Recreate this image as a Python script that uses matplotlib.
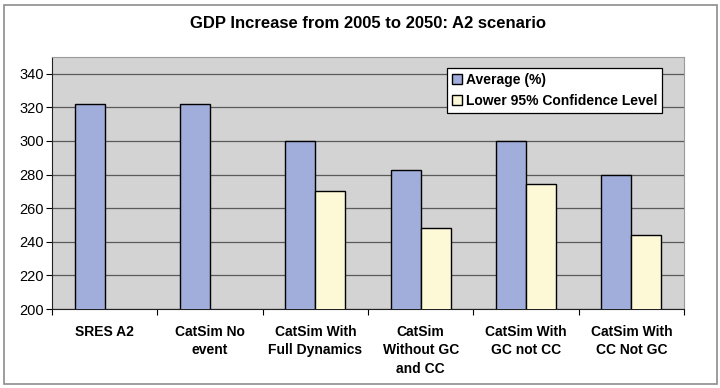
import numpy as np
import matplotlib.pyplot as plt
from matplotlib.patches import Rectangle
from matplotlib.ticker import FixedLocator, NullFormatter

# data
categories = ["SRES A2", "CatSim No\nevent", "CatSim With\nFull Dynamics",
              "CatSim\nWithout GC\nand CC", "CatSim With\nGC not CC", "CatSim With\nCC Not GC"]
average = [322, 322, 300, 283, 300, 280]
lower95 = [np.nan, np.nan, 270.5, 248.5, 274.5, 244]
series_names = ["Average (%)", "Lower 95% Confidence Level"]
yticks = [200, 220, 240, 260, 280, 300, 320, 340]

plt.rcParams["font.family"] = ["Liberation Sans", "DejaVu Sans"]

fig = plt.figure(figsize=(7.2, 3.88), dpi=100)
fig.patch.set_facecolor("white")
W, H = 720, 388

# outer chart border
fig.patches.append(Rectangle((4 / W, 1 - 384 / H), 713 / W, 379 / H, transform=fig.transFigure,
                             fill=False, edgecolor="#8c8c8c", linewidth=1.2))

ax = fig.add_axes([52 / W, 1 - 309 / H, 632 / W, 252 / H])
ax.set_facecolor("#d3d3d3")

x = np.arange(len(categories))
w = 1 / 3.5
ax.bar(x - w / 2, average, width=w, color="#a1aedb", edgecolor="black",
       linewidth=1.0, label=series_names[0], zorder=3)
ax.bar(x + w / 2, lower95, width=w, color="#fdf8d6", edgecolor="black",
       linewidth=1.0, label=series_names[1], zorder=3)

ax.set_xlim(-0.5, len(categories) - 0.5)
ax.set_ylim(200, 350)
ax.set_yticks(yticks)
ax.tick_params(axis="y", labelsize=10.5, length=4, width=0.8, direction="out", pad=2)
ax.yaxis.grid(True, color="#5a5a5a", linewidth=0.9, zorder=1)

# category labels centred, ticks between categories
ax.xaxis.set_major_locator(FixedLocator(np.arange(-0.5, len(categories), 1.0)))
ax.xaxis.set_major_formatter(NullFormatter())
ax.tick_params(axis="x", which="major", length=4, width=0.8, direction="out")
for i, lab in enumerate(categories):
    ax.text(i, 200 - 9.5, lab, ha="center", va="top",
            fontsize=10, fontweight="bold", linespacing=1.4)

for s in ["left", "bottom"]:
    ax.spines[s].set_color("#222222")
for s in ["top", "right"]:
    ax.spines[s].set_color("#9a9a9a")

ax.set_title("GDP Increase from 2005 to 2050: A2 scenario", fontsize=12,
             fontweight="bold", pad=21)

leg = ax.legend(loc="upper left", bbox_to_anchor=((447 - 52) / 632, 1 - (68 - 57) / 252),
                frameon=True, fancybox=False, edgecolor="black", framealpha=1,
                prop={"size": 10, "weight": "bold"}, handlelength=0.7, handleheight=0.7,
                handletextpad=0.3, borderpad=0.35, labelspacing=0.5, borderaxespad=0)
leg.get_frame().set_linewidth(0.9)

fig.savefig("out.png", dpi=100)
